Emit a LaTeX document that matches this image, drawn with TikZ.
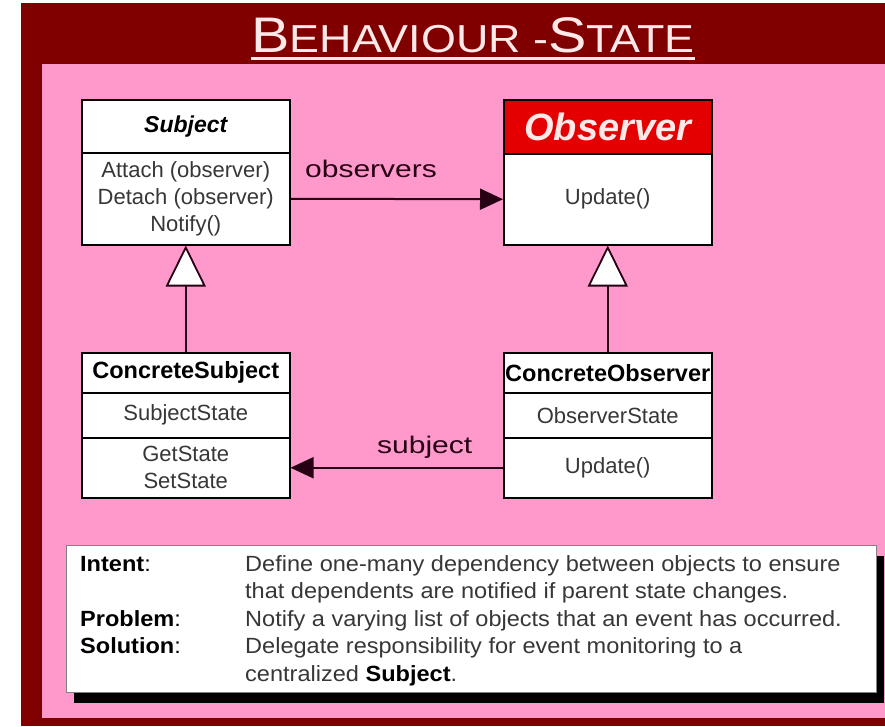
\documentclass[tikz,border=0pt]{standalone}
\usepackage{fontspec}
\setmainfont{Liberation Sans}
\newfontfamily\labfont{Liberation Sans}[FakeStretch=1.25]
\newfontfamily\bodyfont{Liberation Sans}[FakeStretch=1.07]
\newfontfamily\ttlfont{Liberation Sans}[FakeStretch=1.15]
\usetikzlibrary{arrows.meta,shadows}
\definecolor{bgred}{RGB}{128,0,0}
\definecolor{bgpink}{RGB}{255,153,204}
\definecolor{hdred}{RGB}{228,0,0}
\definecolor{txtgray}{RGB}{55,55,55}
\definecolor{linecol}{RGB}{40,0,20}
\definecolor{ttlcol}{RGB}{255,232,232}
\tikzset{
  clsbox/.style={draw=black, line width=1.5pt, fill=white, minimum width=208pt,
    inner sep=0pt, anchor=north west, text=txtgray, align=center,
    font=\fontsize{22}{27}\selectfont},
  clsname/.style={clsbox, text=black, font=\bfseries\fontsize{23.5}{27}\selectfont},
  assoc/.style={draw=linecol, line width=2pt, -{Triangle[length=23pt,width=21pt]}},
  inherit/.style={draw=linecol, line width=1.8pt, -{Triangle[open,length=41pt,width=40pt,fill=white]}},
  lbl/.style={text=linecol, font=\labfont\fontsize{24}{24}\selectfont, inner sep=0pt, anchor=base west},
  infobox/.style={draw=gray, line width=0.8pt, fill=white, anchor=north west, inner sep=0pt,
    minimum width=810pt, minimum height=147pt,
    drop shadow={shadow xshift=8pt, shadow yshift=-11pt, fill=black, opacity=1}},
  infotxt/.style={text=txtgray, font=\bodyfont\fontsize{22}{27}\selectfont, inner sep=0pt, anchor=base west},
  infokey/.style={infotxt, text=black}
}
\begin{document}
\begin{tikzpicture}[x=1pt,y=-1pt]
\useasboundingbox (0,0) rectangle (885,726);
\fill[white] (0,0) rectangle (885,726);
\fill[bgred] (21,3) rectangle (885,726);
\fill[bgpink] (42,64) rectangle (885,718);

% title
\node[anchor=base, text=ttlcol, inner sep=0pt] (title) at (473,52)
  {\ttlfont\fontsize{50}{50}\selectfont B\fontsize{39}{39}\selectfont EHAVIOUR -\fontsize{50}{50}\selectfont S\fontsize{39}{39}\selectfont TATE};
\draw[ttlcol, line width=3pt] ([yshift=-6pt]title.base west) -- ([yshift=-6pt]title.base east);

% Subject
\node[clsbox, minimum height=53pt, text=black, font=\bfseries\itshape\fontsize{23}{27}\selectfont] (subjH) at (81,99) {Subject};
\node[clsbox, minimum height=92pt] (subjB) at (81,152) {Attach (observer)\\Detach (observer)\\Notify()};

% Observer
\node[clsbox, fill=hdred, minimum height=54pt, text=ttlcol, font=\bfseries\itshape\fontsize{38}{38}\selectfont] (obsH) at (503,99) {Observer};
\node[clsbox, minimum height=91pt] (obsB) at (503,153) {Update()};

% ConcreteSubject
\node[clsname, minimum height=40pt] (csubH) at (81,352) {ConcreteSubject};
\node[clsbox, minimum height=45pt] (csubA) at (81,392) {SubjectState};
\node[clsbox, minimum height=60pt] (csubO) at (81,437) {GetState\\SetState};

% ConcreteObserver
\node[clsname, minimum height=40pt] (cobsH) at (503,352) {ConcreteObserver};
\node[clsbox, minimum height=45pt] (cobsA) at (503,392) {ObserverState};
\node[clsbox, minimum height=60pt] (cobsO) at (503,437) {Update()};

% connectors
\draw[assoc] (subjB.east) -- (obsB.west);
\draw[assoc] (cobsO.west) -- (csubO.east);
\draw[inherit] (csubH.north) -- (subjB.south);
\draw[inherit] (cobsH.north) -- (obsB.south);

\node[lbl] (lobs) at (305,177) {observers};
\node[lbl] (lsub) at (377,453) {subject};

% info box
\node[infobox] (info) at (66,545) {};
\node[infokey] (k1) at (80,571) {\bfseries Intent\mdseries:};
\node[infotxt] (v1) at (245,571) {Define one-many dependency between objects to ensure};
\node[infotxt] (v2) at (245,598) {that dependents are notified if parent state changes.};
\node[infokey] (k2) at (80,626) {\bfseries Problem\mdseries:};
\node[infotxt] (v3) at (245,626) {Notify a varying list of objects that an event has occurred.};
\node[infokey] (k3) at (80,653) {\bfseries Solution\mdseries:};
\node[infotxt] (v4) at (245,653) {Delegate responsibility for event monitoring to a};
\node[infotxt] (v5) at (245,681) {centralized \textcolor{black}{\bfseries Subject}.};
\end{tikzpicture}
\end{document}
